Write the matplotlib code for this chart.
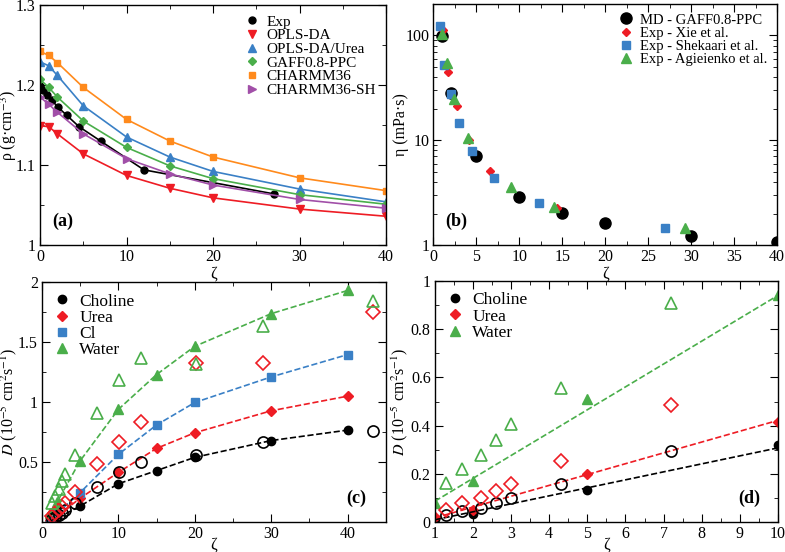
import matplotlib
matplotlib.use("Agg")
import matplotlib.pyplot as plt
import numpy as np
from matplotlib.ticker import MultipleLocator, FixedLocator, NullFormatter, FuncFormatter

plt.rcParams['font.family'] = ['Liberation Serif', 'DejaVu Serif']
plt.rcParams['mathtext.fontset'] = 'stix'
plt.rcParams['font.size'] = 11.5

RED = '#ee1c24'
BLUE = '#3a80c6'
GREEN = '#4aae4a'
ORANGE = '#ff8a1c'
PURPLE = '#a14fa8'

# ---- (a) density ----
zeta_sim = [0, 1, 2, 5, 10, 15, 20, 30, 40]
zeta_exp_a = [0, 0.4, 0.8, 1.35, 2.1, 3.1, 4.5, 7.0, 12.0, 27.0]
rho_exp = [1.199, 1.194, 1.188, 1.181, 1.172, 1.162, 1.148, 1.130, 1.094, 1.064]
rho_opls = [1.149, 1.148, 1.139, 1.114, 1.087, 1.071, 1.059, 1.045, 1.036]
rho_opls_urea = [1.229, 1.224, 1.212, 1.174, 1.135, 1.110, 1.092, 1.070, 1.054]
rho_gaff = [1.207, 1.197, 1.185, 1.155, 1.122, 1.099, 1.083, 1.063, 1.051]
rho_charmm = [1.242, 1.237, 1.228, 1.197, 1.157, 1.130, 1.110, 1.084, 1.068]
rho_charmm_sh = [1.185, 1.176, 1.166, 1.139, 1.108, 1.089, 1.075, 1.057, 1.046]

# ---- (b) viscosity ----
zeta_md_b = [1, 2, 5, 10, 15, 20, 30, 40]
eta_md = [98, 28.3, 7.1, 2.9, 2.04, 1.63, 1.23, 1.08]
zeta_xie = [1.1, 1.75, 2.7, 4.1, 6.6, 14.4]
eta_xie = [113, 45, 21.2, 10.0, 5.1, 2.28]
zeta_shek = [0.8, 1.3, 2.0, 3.0, 4.5, 7.1, 12.3, 27.0]
eta_shek = [122, 52.7, 27.4, 14.7, 7.85, 4.35, 2.51, 1.47]
zeta_agi = [1.05, 1.55, 2.35, 4.05, 9.0, 14.0, 29.3]
eta_agi = [104, 54, 25, 10.5, 3.55, 2.33, 1.47]

# ---- (c) diffusion, full range ----
zeta_md_c = [1, 2, 5, 10, 15, 20, 30, 40]
D_chol_md = [0.012, 0.033, 0.135, 0.32, 0.43, 0.54, 0.68, 0.767]
D_urea_md = [0.02, 0.052, 0.2, 0.415, 0.615, 0.745, 0.928, 1.05]
D_cl_md = [0.03, 0.075, 0.247, 0.565, 0.81, 0.997, 1.21, 1.396]
D_wat_md = [0.08, 0.17, 0.512, 0.94, 1.23, 1.465, 1.737, 1.93]
zeta_exp_c = [1.3, 1.7, 2.2, 2.6, 3.0, 4.3, 7.2, 10.1, 13.0, 20.2, 28.9, 43.3]
D_chol_exp = [0.03, 0.046, 0.059, 0.079, 0.1, 0.159, 0.297, 0.415, 0.505, 0.56, 0.665, 0.762]
D_urea_exp = [0.051, 0.079, 0.1, 0.129, 0.159, 0.252, 0.484, 0.665, 0.837, 1.327, 1.327, 1.75]
D_wat_exp = [0.162, 0.221, 0.279, 0.342, 0.405, 0.556, 0.91, 1.183, 1.371, 1.32, 1.632, 1.842]

# ---- (d) diffusion, low zeta ----
zeta_md_d = [1, 2, 5, 10]
zeta_exp_d = [1.3, 1.7, 2.2, 2.6, 3.0, 4.3, 7.2]
fit_zeta_d = [1, 10]
fit_chol_d = [0.01, 0.308]
fit_urea_d = [0.018, 0.422]
fit_wat_d = [0.087, 0.94]


def short_fmt(v, pos):
    return ('%.2f' % v).rstrip('0').rstrip('.')


def style_axes(ax, xl_y, yl_x):
    ax.tick_params(which='both', direction='in', top=True, right=True, labelsize=11.5, pad=3)
    ax.tick_params(which='major', length=6)
    ax.tick_params(which='minor', length=3)
    for s in ax.spines.values():
        s.set_linewidth(1.0)
    ax.xaxis.set_label_coords(0.5, xl_y)
    ax.yaxis.set_label_coords(yl_x, 0.5)


fig = plt.figure(figsize=(7.85, 5.52), dpi=100)
ax1 = fig.add_axes([0.051, 0.556, 0.441, 0.435])
ax2 = fig.add_axes([0.552, 0.556, 0.438, 0.437])
ax3 = fig.add_axes([0.0535, 0.054, 0.438, 0.435])
ax4 = fig.add_axes([0.554, 0.054, 0.437, 0.437])

leg_kw = dict(frameon=False, handlelength=1.0, handletextpad=0.5,
              labelspacing=0.0, borderaxespad=0.25)

# (a)
ms = 5
ax1.plot(zeta_exp_a, rho_exp, '-o', color='black', ms=ms, lw=1.2, label='Exp')
ax1.plot(zeta_sim, rho_opls, '-v', color=RED, ms=ms + 1, lw=1.2, label='OPLS-DA')
ax1.plot(zeta_sim, rho_opls_urea, '-^', color=BLUE, ms=ms + 1, lw=1.2, label='OPLS-DA/Urea')
ax1.plot(zeta_sim, rho_gaff, '-D', color=GREEN, ms=ms - 0.5, lw=1.2, label='GAFF0.8-PPC')
ax1.plot(zeta_sim, rho_charmm, '-s', color=ORANGE, ms=ms, lw=1.2, label='CHARMM36')
ax1.plot(zeta_sim, rho_charmm_sh, '->', color=PURPLE, ms=ms + 1, lw=1.2, label='CHARMM36-SH')
ax1.set_xlim(0, 40)
ax1.set_ylim(1.0, 1.3)
ax1.xaxis.set_major_locator(MultipleLocator(10))
ax1.xaxis.set_minor_locator(MultipleLocator(5))
ax1.yaxis.set_major_locator(FixedLocator([1.0, 1.1, 1.2, 1.3]))
ax1.yaxis.set_minor_locator(MultipleLocator(0.05))
ax1.yaxis.set_major_formatter(FuncFormatter(short_fmt))
ax1.set_xlabel('ζ')
ax1.set_ylabel('ρ (g·cm$^{-3}$)')
ax1.legend(loc='upper right', fontsize=11, **leg_kw)
for line in ax1.get_legend().get_lines():
    line.set_linestyle('none')
ax1.text(0.035, 0.08, '(a)', transform=ax1.transAxes, fontsize=13, fontweight='bold')
style_axes(ax1, -0.085, -0.06)

# (b)
ax2.plot(zeta_md_b, eta_md, 'o', color='black', ms=8, label='MD - GAFF0.8-PPC')
ax2.plot(zeta_xie, eta_xie, 'D', color=RED, ms=4.5, label='Exp - Xie et al.')
ax2.plot(zeta_shek, eta_shek, 's', color=BLUE, ms=5.5, label='Exp - Shekaari et al.')
ax2.plot(zeta_agi, eta_agi, '^', color=GREEN, ms=7, label='Exp - Agieienko et al.')
ax2.set_yscale('log')
ax2.set_xlim(0, 40)
ax2.set_ylim(1, 200)
ax2.xaxis.set_major_locator(MultipleLocator(5))
ax2.xaxis.set_minor_locator(MultipleLocator(2.5))
ax2.yaxis.set_major_locator(FixedLocator([1, 10, 100]))
ax2.yaxis.set_major_formatter(FuncFormatter(lambda v, p: '%d' % v))
ax2.yaxis.set_minor_formatter(NullFormatter())
ax2.set_xlabel('ζ')
ax2.set_ylabel('η (mPa·s)')
ax2.legend(loc='upper right', fontsize=10.5, **leg_kw)
ax2.text(0.035, 0.08, '(b)', transform=ax2.transAxes, fontsize=13, fontweight='bold')
style_axes(ax2, -0.085, -0.07)

# (c)
ax3.plot(zeta_md_c, D_chol_md, 'o', color='black', ms=6, label='Choline')
ax3.plot(zeta_md_c, D_urea_md, 'D', color=RED, ms=5.5, label='Urea')
ax3.plot(zeta_md_c, D_cl_md, 's', color=BLUE, ms=5.5, label='Cl')
ax3.plot(zeta_md_c, D_wat_md, '^', color=GREEN, ms=7, label='Water')
ax3.plot(zeta_md_c, D_chol_md, '--', color='black', lw=1.2)
ax3.plot(zeta_md_c, D_urea_md, '--', color=RED, lw=1.2)
ax3.plot(zeta_md_c, D_cl_md, '--', color=BLUE, lw=1.2)
ax3.plot(zeta_md_c, D_wat_md, '--', color=GREEN, lw=1.2)
ax3.plot(zeta_exp_c, D_chol_exp, 'o', mfc='none', mec='black', ms=8, mew=1.2)
ax3.plot(zeta_exp_c, D_urea_exp, 'D', mfc='none', mec=RED, ms=7, mew=1.2)
ax3.plot(zeta_exp_c, D_wat_exp, '^', mfc='none', mec=GREEN, ms=9, mew=1.2)
ax3.set_xlim(0, 45)
ax3.set_ylim(0, 2)
ax3.xaxis.set_major_locator(FixedLocator([0, 10, 20, 30, 40]))
ax3.xaxis.set_minor_locator(MultipleLocator(5))
ax3.yaxis.set_major_locator(FixedLocator([0.5, 1.0, 1.5, 2.0]))
ax3.yaxis.set_minor_locator(MultipleLocator(0.25))
ax3.yaxis.set_major_formatter(FuncFormatter(short_fmt))
ax3.set_xlabel('ζ')
ax3.set_ylabel('$D$ (10$^{-5}$ cm$^{2}$s$^{-1}$)')
ax3.legend(loc='upper left', fontsize=12.5, **leg_kw)
ax3.text(0.885, 0.08, '(c)', transform=ax3.transAxes, fontsize=13, fontweight='bold')
style_axes(ax3, -0.06, -0.066)

# (d)
ax4.plot(zeta_md_d, D_chol_md[:4], 'o', color='black', ms=6, label='Choline')
ax4.plot(zeta_md_d, D_urea_md[:4], 'D', color=RED, ms=5.5, label='Urea')
ax4.plot(zeta_md_d, D_wat_md[:4], '^', color=GREEN, ms=7, label='Water')
ax4.plot(fit_zeta_d, fit_chol_d, '--', color='black', lw=1.2)
ax4.plot(fit_zeta_d, fit_urea_d, '--', color=RED, lw=1.2)
ax4.plot(fit_zeta_d, fit_wat_d, '--', color=GREEN, lw=1.2)
ax4.plot(zeta_exp_d, D_chol_exp[:7], 'o', mfc='none', mec='black', ms=8, mew=1.2)
ax4.plot(zeta_exp_d, D_urea_exp[:7], 'D', mfc='none', mec=RED, ms=7, mew=1.2)
ax4.plot(zeta_exp_d, D_wat_exp[:7], '^', mfc='none', mec=GREEN, ms=9, mew=1.2)
ax4.set_xlim(1, 10)
ax4.set_ylim(0, 1)
ax4.xaxis.set_major_locator(MultipleLocator(1))
ax4.xaxis.set_minor_locator(MultipleLocator(0.5))
ax4.yaxis.set_major_locator(MultipleLocator(0.2))
ax4.yaxis.set_minor_locator(MultipleLocator(0.1))
ax4.yaxis.set_major_formatter(FuncFormatter(short_fmt))
ax4.set_xlabel('ζ')
ax4.set_ylabel('$D$ (10$^{-5}$ cm$^{2}$s$^{-1}$)')
ax4.legend(loc='upper left', fontsize=12.5, **leg_kw)
ax4.text(0.885, 0.08, '(d)', transform=ax4.transAxes, fontsize=13, fontweight='bold')
style_axes(ax4, -0.06, -0.072)

fig.savefig('out.png', dpi=100)
